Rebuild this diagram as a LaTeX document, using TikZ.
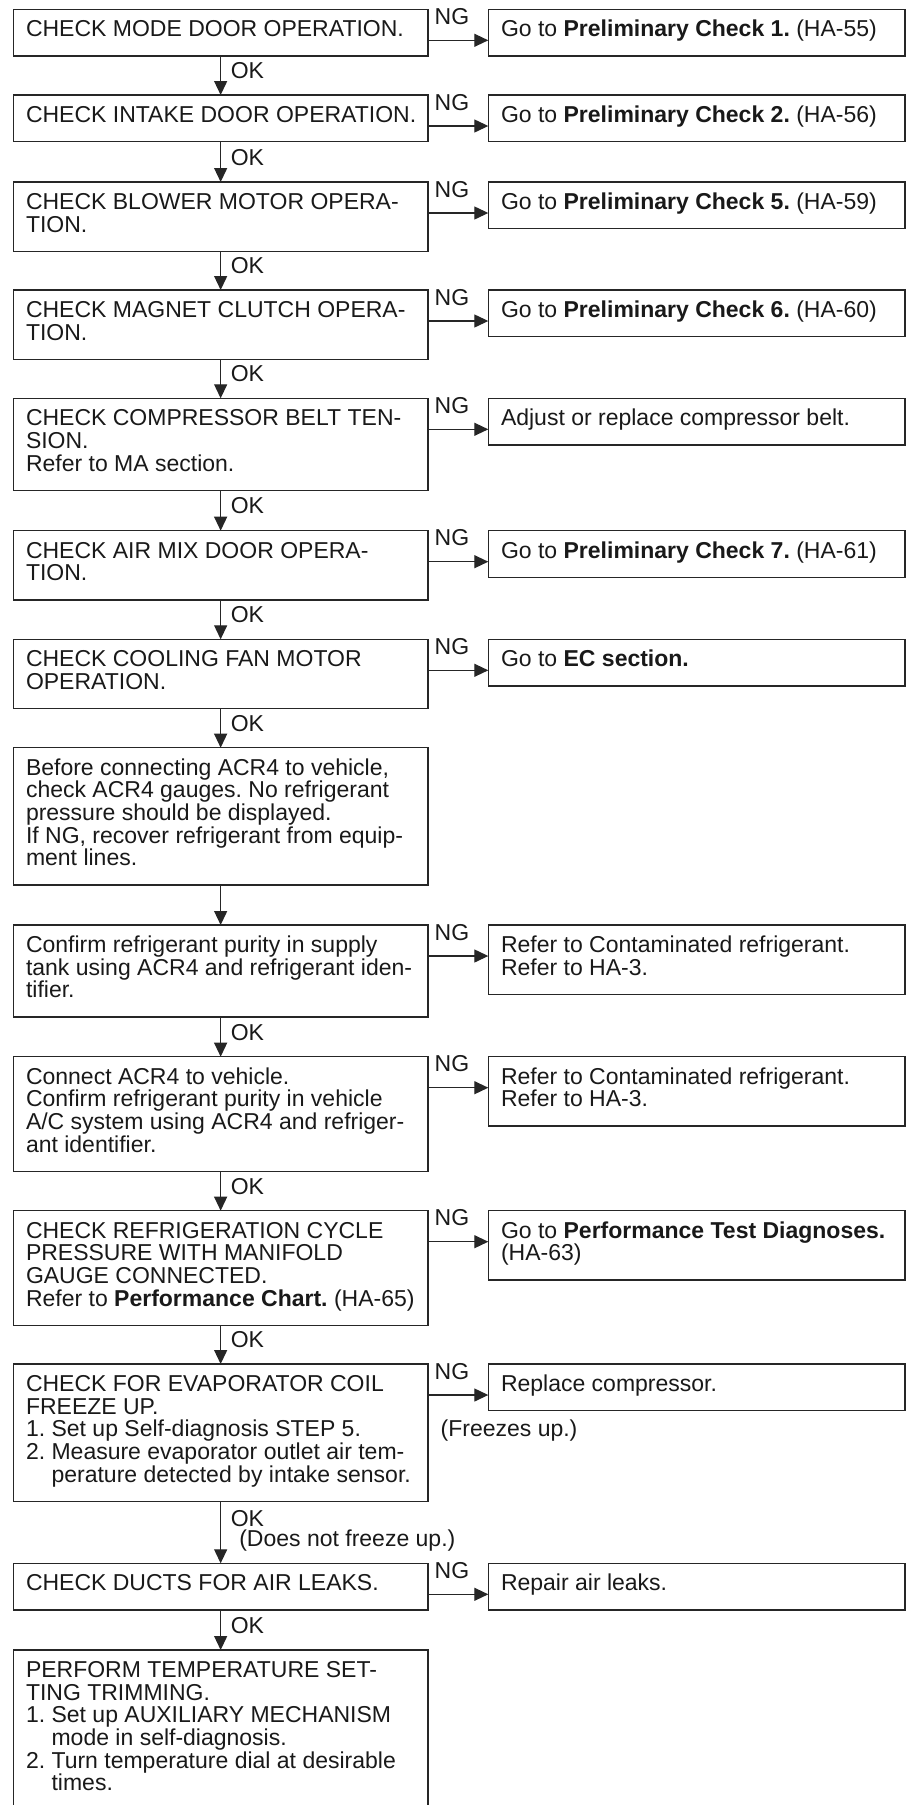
\documentclass[tikz,border=0pt]{standalone}
\usepackage{fontspec}
\setmainfont{Liberation Sans}
\usetikzlibrary{arrows.meta}
\definecolor{trait}{gray}{0.15}
\definecolor{encre}{gray}{0.1}
\frenchspacing
\begin{document}
\begin{tikzpicture}[x=1pt,y=-1pt,font=\fontsize{23pt}{22.7pt}\selectfont]
	% Styles
	\tikzstyle{boite}=[draw=trait,line width=1.4pt,anchor=north west,inner sep=0pt,outer sep=0pt,text=encre]
	\tikzstyle{fleche}=[-{Triangle[length=14pt,width=13pt]},line width=1.3pt,draw=trait]
	\tikzstyle{ok}=[anchor=base west,inner sep=0pt,xshift=9.5pt,text=encre]
	\tikzstyle{ng}=[anchor=base west,inner sep=0pt,xshift=6pt,yshift=15.8pt,text=encre]
	\tikzstyle{remarque}=[anchor=base west,inner sep=0pt,text=encre]
	% Dimensions
	\def\ColonneA{13.3}
	\def\ColonneB{488.3}
	\def\LargeurA{414.7pt}
	\def\LargeurB{416.7pt}
	\def\Boite#1#2#3{\parbox[t][\dimexpr23.9pt+22.7pt*#2\relax][t]{#1}{\frenchspacing\raggedright\leftskip=12.7pt\rule{0pt}{27.3pt}#3}}
	\def\Retrait{\phantom{2.\ }}
	\useasboundingbox (0,0) rectangle (907,1805);
	% Noeuds
	\node[boite] (A1) at (\ColonneA,9.3) {\Boite{\LargeurA}{1}{CHECK MODE DOOR OPERATION.}};
	\node[boite] (B1) at (\ColonneB,9.3) {\Boite{\LargeurB}{1}{Go to \textbf{Preliminary Check 1.} (HA-55)}};
	\node[boite] (A2) at (\ColonneA,95) {\Boite{\LargeurA}{1}{CHECK INTAKE DOOR OPERATION.}};
	\node[boite] (B2) at (\ColonneB,95) {\Boite{\LargeurB}{1}{Go to \textbf{Preliminary Check 2.} (HA-56)}};
	\node[boite] (A3) at (\ColonneA,182) {\Boite{\LargeurA}{2}{CHECK BLOWER MOTOR OPERA-\\TION.}};
	\node[boite] (B3) at (\ColonneB,182) {\Boite{\LargeurB}{1}{Go to \textbf{Preliminary Check 5.} (HA-59)}};
	\node[boite] (A4) at (\ColonneA,290) {\Boite{\LargeurA}{2}{CHECK MAGNET CLUTCH OPERA-\\TION.}};
	\node[boite] (B4) at (\ColonneB,290) {\Boite{\LargeurB}{1}{Go to \textbf{Preliminary Check 6.} (HA-60)}};
	\node[boite] (A5) at (\ColonneA,398.3) {\Boite{\LargeurA}{3}{CHECK COMPRESSOR BELT TEN-\\SION.\\Refer to MA section.}};
	\node[boite] (B5) at (\ColonneB,398.3) {\Boite{\LargeurB}{1}{Adjust or replace compressor belt.}};
	\node[boite] (A6) at (\ColonneA,530.7) {\Boite{\LargeurA}{2}{CHECK AIR MIX DOOR OPERA-\\TION.}};
	\node[boite] (B6) at (\ColonneB,530.7) {\Boite{\LargeurB}{1}{Go to \textbf{Preliminary Check 7.} (HA-61)}};
	\node[boite] (A7) at (\ColonneA,639.3) {\Boite{\LargeurA}{2}{CHECK COOLING FAN MOTOR\\OPERATION.}};
	\node[boite] (B7) at (\ColonneB,639.3) {\Boite{\LargeurB}{1}{Go to \textbf{EC section.}}};
	\node[boite] (A8) at (\ColonneA,747.7) {\Boite{\LargeurA}{5}{Before connecting ACR4 to vehicle,\\check ACR4 gauges. No refrigerant\\pressure should be displayed.\\If NG, recover refrigerant from equip-\\ment lines.}};
	\node[boite] (A9) at (\ColonneA,925) {\Boite{\LargeurA}{3}{Confirm refrigerant purity in supply\\tank using ACR4 and refrigerant iden-\\tifier.}};
	\node[boite] (B9) at (\ColonneB,925) {\Boite{\LargeurB}{2}{Refer to Contaminated refrigerant.\\Refer to HA-3.}};
	\node[boite] (A10) at (\ColonneA,1056.7) {\Boite{\LargeurA}{4}{Connect ACR4 to vehicle.\\Confirm refrigerant purity in vehicle\\A/C system using ACR4 and refriger-\\ant identifier.}};
	\node[boite] (B10) at (\ColonneB,1056.7) {\Boite{\LargeurB}{2}{Refer to Contaminated refrigerant.\\Refer to HA-3.}};
	\node[boite] (A11) at (\ColonneA,1210.7) {\Boite{\LargeurA}{4}{CHECK REFRIGERATION CYCLE\\PRESSURE WITH MANIFOLD\\GAUGE CONNECTED.\\Refer to \textbf{Performance Chart.} (HA-65)}};
	\node[boite] (B11) at (\ColonneB,1210.7) {\Boite{\LargeurB}{2}{Go to \textbf{Performance Test Diagnoses.}\\(HA-63)}};
	\node[boite] (A12) at (\ColonneA,1364) {\Boite{\LargeurA}{5}{CHECK FOR EVAPORATOR COIL\\FREEZE UP.\\1. Set up Self-diagnosis STEP 5.\\2. Measure evaporator outlet air tem-\\\Retrait perature detected by intake sensor.}};
	\node[boite] (B12) at (\ColonneB,1364) {\Boite{\LargeurB}{1}{Replace compressor.}};
	\node[boite] (A13) at (\ColonneA,1563.3) {\Boite{\LargeurA}{1}{CHECK DUCTS FOR AIR LEAKS.}};
	\node[boite] (B13) at (\ColonneB,1563.3) {\Boite{\LargeurB}{1}{Repair air leaks.}};
	\node[boite] (A14) at (\ColonneA,1650) {\Boite{\LargeurA}{6}{PERFORM TEMPERATURE SET-\\TING TRIMMING.\\1. Set up AUXILIARY MECHANISM\\\Retrait mode in self-diagnosis.\\2. Turn temperature dial at desirable\\\Retrait times.}};
	% Arcs OK
	\draw[fleche] (A1.south)--(A2.north) node[ok,pos=0.58] (ok1) {OK};
	\draw[fleche] (A2.south)--(A3.north) node[ok,pos=0.58] (ok2) {OK};
	\draw[fleche] (A3.south)--(A4.north) node[ok,pos=0.58] (ok3) {OK};
	\draw[fleche] (A4.south)--(A5.north) node[ok,pos=0.58] (ok4) {OK};
	\draw[fleche] (A5.south)--(A6.north) node[ok,pos=0.58] (ok5) {OK};
	\draw[fleche] (A6.south)--(A7.north) node[ok,pos=0.58] (ok6) {OK};
	\draw[fleche] (A7.south)--(A8.north) node[ok,pos=0.58] (ok7) {OK};
	\draw[fleche] (A8.south)--(A9.north);
	\draw[fleche] (A9.south)--(A10.north) node[ok,pos=0.58] (ok9) {OK};
	\draw[fleche] (A10.south)--(A11.north) node[ok,pos=0.58] (ok10) {OK};
	\draw[fleche] (A11.south)--(A12.north) node[ok,pos=0.58] (ok11) {OK};
	\draw[fleche] (A12.south)--(A13.north) node[ok,pos=0.406] (ok12) {OK}
		node[ok,pos=0.735,xshift=8.5pt] (pasgel) {(Does not freeze up.)};
	\draw[fleche] (A13.south)--(A14.north) node[ok,pos=0.58] (ok13) {OK};
	% Arcs NG
	\draw[fleche] ([yshift=-31pt]A1.north east)--([yshift=-31pt]B1.north west) node[ng,pos=0] (ng1) {NG};
	\draw[fleche] ([yshift=-31pt]A2.north east)--([yshift=-31pt]B2.north west) node[ng,pos=0] (ng2) {NG};
	\draw[fleche] ([yshift=-31pt]A3.north east)--([yshift=-31pt]B3.north west) node[ng,pos=0] (ng3) {NG};
	\draw[fleche] ([yshift=-31pt]A4.north east)--([yshift=-31pt]B4.north west) node[ng,pos=0] (ng4) {NG};
	\draw[fleche] ([yshift=-31pt]A5.north east)--([yshift=-31pt]B5.north west) node[ng,pos=0] (ng5) {NG};
	\draw[fleche] ([yshift=-31pt]A6.north east)--([yshift=-31pt]B6.north west) node[ng,pos=0] (ng6) {NG};
	\draw[fleche] ([yshift=-31pt]A7.north east)--([yshift=-31pt]B7.north west) node[ng,pos=0] (ng7) {NG};
	\draw[fleche] ([yshift=-31pt]A9.north east)--([yshift=-31pt]B9.north west) node[ng,pos=0] (ng9) {NG};
	\draw[fleche] ([yshift=-31pt]A10.north east)--([yshift=-31pt]B10.north west) node[ng,pos=0] (ng10) {NG};
	\draw[fleche] ([yshift=-31pt]A11.north east)--([yshift=-31pt]B11.north west) node[ng,pos=0] (ng11) {NG};
	\draw[fleche] ([yshift=-31pt]A12.north east)--([yshift=-31pt]B12.north west) node[ng,pos=0] (ng12) {NG}
		node[remarque,pos=0,xshift=12pt,yshift=-41.3pt] (gel) {(Freezes up.)};
	\draw[fleche] ([yshift=-31pt]A13.north east)--([yshift=-31pt]B13.north west) node[ng,pos=0] (ng13) {NG};
\end{tikzpicture}
\end{document}
